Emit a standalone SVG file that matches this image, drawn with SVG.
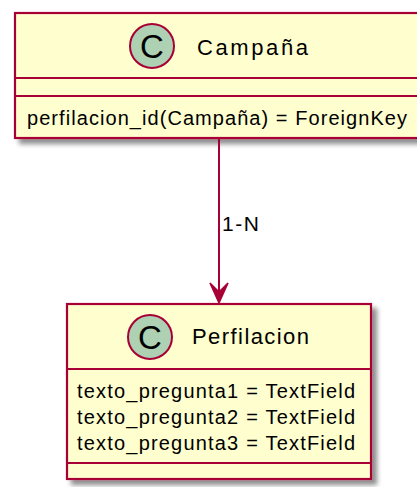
<svg xmlns="http://www.w3.org/2000/svg" width="417" height="487" viewBox="0 0 417 487">
<defs>
<filter id="sh" x="-10%" y="-10%" width="130%" height="130%">
<feGaussianBlur in="SourceAlpha" stdDeviation="2.5"/>
<feOffset dx="5" dy="5" result="b"/>
<feComponentTransfer><feFuncA type="linear" slope="0.45"/></feComponentTransfer>
<feMerge><feMergeNode/><feMergeNode in="SourceGraphic"/></feMerge>
</filter>
</defs>
<style>
.box{fill:#FEFECE;stroke:#A80036;stroke-width:2.2}
.sep{stroke:#A80036;stroke-width:2.2}
.circ{fill:#ADD1B2;stroke:#A80036;stroke-width:2}
.cl{font-family:"Liberation Sans",Arial,sans-serif;font-size:33px;fill:#000}
.name{font-family:"Liberation Sans",Arial,sans-serif;font-size:22px;fill:#000}
.attr{font-family:"Liberation Sans",Arial,sans-serif;font-size:20px;fill:#000}
.edge{stroke:#A80036;stroke-width:2;fill:none}
.head{fill:#A80036;stroke:#A80036;stroke-width:1.5}
.lbl{font-family:"Liberation Sans",Arial,sans-serif;font-size:21px;fill:#000}
</style>
<g id="Campana">
<rect class="box" x="15" y="13" width="410" height="125" filter="url(#sh)"/>
<line class="sep" x1="15" y1="78" x2="425" y2="78"/>
<line class="sep" x1="15" y1="96" x2="425" y2="96"/>
<circle class="circ" cx="152" cy="46" r="22"/>
<text class="cl" x="152" y="58" text-anchor="middle">C</text>
<text class="name" x="197" y="55" textLength="111" lengthAdjust="spacing">Campaña</text>
<text class="attr" x="27" y="125" textLength="380" lengthAdjust="spacing">perfilacion_id(Campaña) = ForeignKey</text>
</g>
<g id="Perfilacion">
<rect class="box" x="67" y="304" width="304" height="175" filter="url(#sh)"/>
<line class="sep" x1="67" y1="369" x2="371" y2="369"/>
<line class="sep" x1="67" y1="463" x2="371" y2="463"/>
<circle class="circ" cx="150" cy="337" r="22"/>
<text class="cl" x="150" y="349" text-anchor="middle">C</text>
<text class="name" x="192" y="344" textLength="117" lengthAdjust="spacing">Perfilacion</text>
<text class="attr" x="77" y="398" textLength="278" lengthAdjust="spacing">texto_pregunta1 = TextField</text>
<text class="attr" x="77" y="424" textLength="278" lengthAdjust="spacing">texto_pregunta2 = TextField</text>
<text class="attr" x="77" y="450" textLength="278" lengthAdjust="spacing">texto_pregunta3 = TextField</text>
</g>
<g id="connectors">
<path class="edge" d="M219,138 L219,300"/>
<polygon class="head" points="219,303 210,283 219,292 228,283"/>
<text class="lbl" x="222" y="231" textLength="37" lengthAdjust="spacing">1-N</text>
</g>
</svg>
